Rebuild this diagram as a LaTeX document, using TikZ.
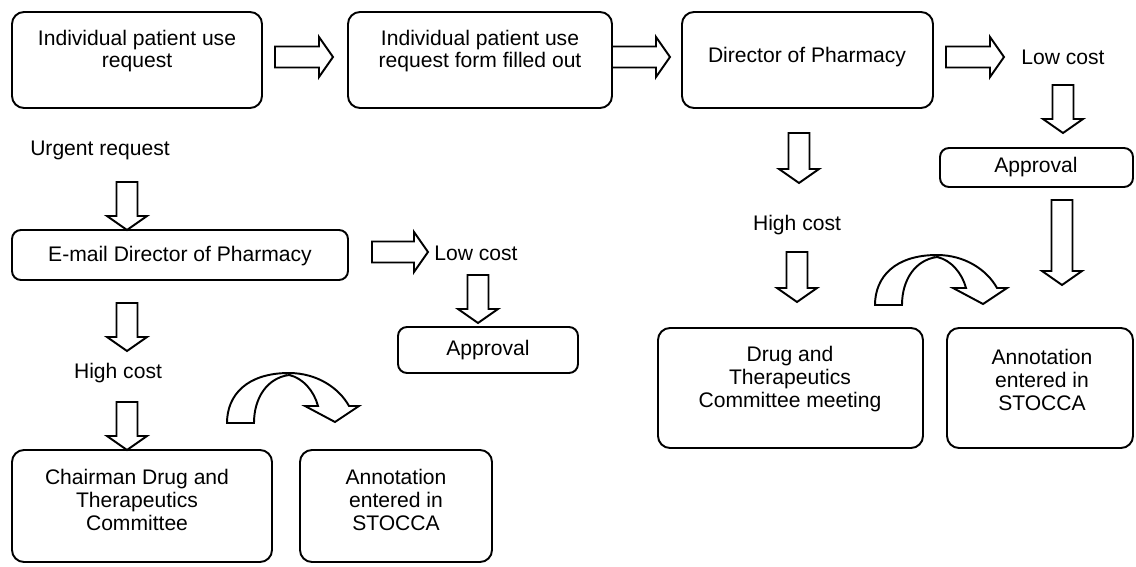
\documentclass[tikz,border=0pt]{standalone}
\usepackage{fontspec}
\setmainfont{Liberation Sans}
\usetikzlibrary{fit}
\begin{document}
\begin{tikzpicture}[x=0.02cm, y=-0.02cm,
  box/.style={draw, line width=1.1pt, rounded corners=0.24cm, inner sep=0pt},
  sbox/.style={box, rounded corners=0.18cm},
  txt/.style={align=center, font=\fontsize{12}{13}\selectfont, inner sep=0pt},
  blk/.style={draw, line width=1.1pt, fill=white, line join=miter},
  pics/rarr/.style={code={\draw[blk] (0,-10.5) -- (#1-14,-10.5) -- (#1-14,-20) -- (#1,0) -- (#1-14,20) -- (#1-14,10.5) -- (0,10.5) -- cycle;}},
  pics/rarr/.default=58,
  pics/darr/.style={code={\draw[blk] (-10.5,0) -- (-10.5,#1-14) -- (-20,#1-14) -- (0,#1) -- (20,#1-14) -- (10.5,#1-14) -- (10.5,0) -- cycle;}},
  pics/darr/.default=48,
  pics/carr/.style={code={\draw[blk] (0,0) .. controls (0,-28) and (20,-50) .. (62,-50)
      .. controls (90,-50) and (112,-35) .. (122,-17) -- (132,-17) -- (108,-1) -- (78,-17) -- (91,-17)
      .. controls (87,-32) and (76,-45) .. (62,-48)
      .. controls (40,-45) and (27,-25) .. (27,0) -- cycle;}}
]
\useasboundingbox (0,0) rectangle (1136,567);
\fill[white] (0,0) rectangle (1136,567);

% top row
\node[box, fit={(12,12) (262,108)}] (b1) {};
\node[txt] (t1) at (137,51) {Individual patient use\\request};
\pic (a1) at (275,57) {rarr};
\node[box, fit={(348,12) (612,108)}] (b2) {};
\node[txt] (t2) at (480,51) {Individual patient use\\request form filled out};
\pic (a2) at (612,57) {rarr};
\node[box, fit={(682,12) (933,108)}] (b3) {};
\node[txt] (t3) at (807,57) {Director of Pharmacy};
\pic (a3) at (946,57) {rarr};
\node[txt] (lcR) at (1063,57) {Low cost};
\pic (d1) at (1063,85) {darr};
\node[sbox, fit={(940,148) (1133,187)}] (apR) {};
\node[txt] (apRt) at (1036,167) {Approval};
\pic (d2) at (1062,200) {darr=85};

% right middle
\pic (d3) at (799,133) {darr=50};
\node[txt] (hcR) at (797,225) {High cost};
\pic (d4) at (797,252) {darr=50};
\node[box, fit={(658,328) (923,448)}] (dtc) {};
\node[txt] (dtct) at (790,379) {Drug and\\Therapeutics\\Committee meeting};
\pic (c1) at (875,305) {carr};
\node[box, fit={(947,328) (1133,448)}] (anR) {};
\node[txt] (anRt) at (1042,380) {Annotation\\entered in\\STOCCA};

% left column
\node[txt] (urg) at (100,150) {Urgent request};
\pic (d5) at (127,182) {darr};
\node[sbox, fit={(12,230) (348,280)}] (em) {};
\node[txt] (emt) at (180,256) {E-mail Director of Pharmacy};
\pic (a4) at (372,252) {rarr=56};
\node[txt] (lcL) at (476,253) {Low cost};
\pic (d6) at (478,275) {darr};
\node[sbox, fit={(398,327) (578,373)}] (apL) {};
\node[txt] (apLt) at (488,350) {Approval};
\pic (d7) at (127,303) {darr};
\node[txt] (hcL) at (118,373) {High cost};
\pic (d8) at (127,402) {darr};
\node[box, fit={(12,450) (272,562)}] (ch) {};
\node[txt] (cht) at (137,500) {Chairman Drug and\\Therapeutics\\Committee};
\pic (c2) at (227,423) {carr};
\node[box, fit={(300,450) (492,562)}] (anL) {};
\node[txt] (anLt) at (396,500) {Annotation\\entered in\\STOCCA};
\end{tikzpicture}
\end{document}
